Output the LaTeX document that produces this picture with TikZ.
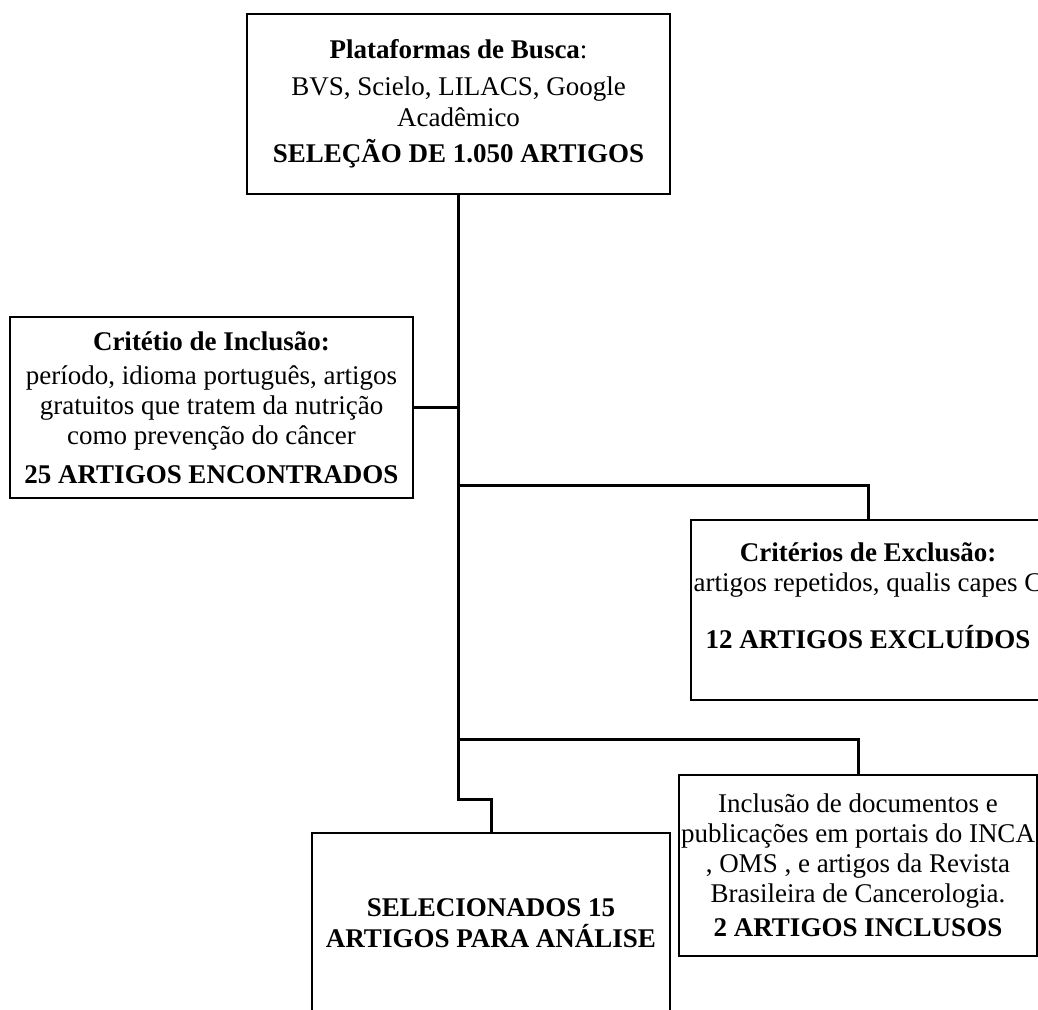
\documentclass[tikz,border=0pt]{standalone}
\usepackage{fontspec}
\setmainfont{Liberation Serif}
\usepackage{tikz}

\tikzset{
  caixa/.style={draw, line width=1pt, inner sep=0pt, align=center,
    font=\fontsize{13.5}{14}\selectfont},
  liga/.style={line width=1.5pt},
}

\begin{document}
\begin{tikzpicture}[x=0.5pt, y=-0.5pt]
  \useasboundingbox (0,0) rectangle (1038,1009);
  \clip (0,0) rectangle (1038,1009);

  % caixas
  \node[caixa, minimum width=211.5pt, minimum height=90pt] (busca) at (458.5,104)
    {\textbf{Plataformas de Busca}:\\[4.5pt]
     BVS, Scielo, LILACS, Google\\[1.5pt]
     Acadêmico\\[4pt]
     \textbf{SELEÇÃO DE 1.050 ARTIGOS}};

  \node[caixa, minimum width=201.5pt, minimum height=90.5pt] (inclusao) at (211.5,407.5)
    {\textbf{Critétio de Inclusão:}\\[3pt]
     período, idioma português, artigos\\[1pt]
     gratuitos que tratem da nutrição\\[1pt]
     como prevenção do câncer\\[5.5pt]
     \textbf{25 ARTIGOS ENCONTRADOS}};

  \node[caixa, minimum width=177pt, minimum height=90pt] (exclusao) at (868,610)
    {\textbf{Critérios de Exclusão:}\\[1pt]
     \makebox[0pt]{artigos repetidos, qualis capes C}\\[13pt]
     \textbf{12 ARTIGOS EXCLUÍDOS}\\ \mbox{}};

  \node[caixa, minimum width=179pt, minimum height=90.5pt] (portais) at (858,865.5)
    {Inclusão de documentos e\\[1pt]
     publicações em portais do INCA\\[1pt]
     , OMS , e artigos da Revista\\[1pt]
     Brasileira de Cancerologia.\\[3pt]
     \textbf{2 ARTIGOS INCLUSOS}};

  \node[caixa, minimum width=179pt, minimum height=90.5pt] (selecionados) at (491,923.5)
    {\textbf{SELECIONADOS 15}\\[1.5pt]
     \textbf{ARTIGOS PARA ANÁLISE}};

  % ligacoes
  \coordinate (rExc) at (458.5,485);
  \coordinate (rPor) at (458.5,739);
  \coordinate (rSel) at (458.5,799);

  \draw[liga] (busca.south) -- (rSel) -| (selecionados.north);
  \draw[liga] (inclusao.east) -- (inclusao.east -| busca.south);
  \draw[liga] (rExc) -| (exclusao.north);
  \draw[liga] (rPor) -| (portais.north);
\end{tikzpicture}
\end{document}
